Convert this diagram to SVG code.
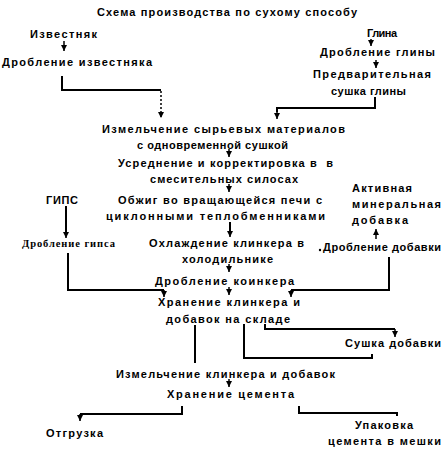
<svg xmlns="http://www.w3.org/2000/svg" width="444" height="456" viewBox="0 0 444 456">
<style>
text{font-family:"Liberation Sans",Arial,sans-serif;font-weight:bold;font-size:11px;fill:#000}
.serif{font-family:"Liberation Serif","Times New Roman",serif;font-size:10.5px}
.pre{white-space:pre}
.ln{fill:none;stroke:#000;stroke-width:2}
.ar{fill:none;stroke:#000;stroke-width:1.5}
.dot{fill:none;stroke:#000;stroke-width:1.5;stroke-dasharray:2 2}
</style>
<defs>
<marker id="ah" viewBox="0 0 6 6" refX="6" refY="3" markerWidth="6" markerHeight="6" markerUnits="userSpaceOnUse" orient="auto">
<path d="M0,0 L6,3 L0,6 z" fill="#000"/>
</marker>
</defs>
<rect width="444" height="456" fill="#fff"/>
<g id="title"><text x="97" y="16" textLength="260" lengthAdjust="spacing">Схема производства по сухому способу</text></g>
<g id="izvestnyak"><text x="30" y="38" textLength="67" lengthAdjust="spacing">Известняк</text></g>
<g id="drob-izv"><text x="2" y="66" textLength="150" lengthAdjust="spacing">Дробление известняка</text></g>
<g id="glina"><text x="367" y="37" textLength="30" lengthAdjust="spacing">Глина</text></g>
<g id="drob-gliny"><text x="320" y="56" textLength="115" lengthAdjust="spacing">Дробление глины</text></g>
<g id="sushka-gliny"><text x="313" y="78" textLength="118" lengthAdjust="spacing">Предварительная</text><text x="331" y="95" textLength="75" lengthAdjust="spacing">сушка глины</text></g>
<g id="izmelchenie-syr"><text x="102" y="133" textLength="243" lengthAdjust="spacing">Измельчение сырьевых материалов</text><text x="137" y="149" textLength="151" lengthAdjust="spacing">с одновременной сушкой</text></g>
<g id="usrednenie"><text class="pre" x="118" y="167" textLength="215" lengthAdjust="spacing">Усреднение и корректировка в  в</text><text x="150" y="183" textLength="148" lengthAdjust="spacing">смесительных силосах</text></g>
<g id="gips"><text x="46" y="204" textLength="32" lengthAdjust="spacing">ГИПС</text></g>
<g id="obzhig"><text x="118" y="204" textLength="204" lengthAdjust="spacing">Обжиг во вращающейся печи с</text><text x="106" y="220" textLength="219" lengthAdjust="spacing">циклонными теплобменниками</text></g>
<g id="aktivnaya"><text x="352" y="192" textLength="60" lengthAdjust="spacing">Активная</text><text x="352" y="208" textLength="89" lengthAdjust="spacing">минеральная</text><text x="352" y="224" textLength="56" lengthAdjust="spacing">добавка</text></g>
<g id="drob-gipsa"><text class="serif" x="22" y="247" textLength="93" lengthAdjust="spacing">Дробление гипса</text></g>
<g id="ohlazhdenie"><text x="149" y="247" textLength="155" lengthAdjust="spacing">Охлаждение клинкера в</text><text x="182" y="263" textLength="91" lengthAdjust="spacing">холодильнике</text></g>
<g id="drob-dobavki"><circle cx="320" cy="250" r="1.2" fill="#000"/><text x="323" y="251" textLength="118" lengthAdjust="spacing">Дробление добавки</text></g>
<g id="drob-klinkera"><text x="155" y="285" textLength="139" lengthAdjust="spacing">Дробление коинкера</text></g>
<g id="hranenie-kl"><text x="158" y="306" textLength="142" lengthAdjust="spacing">Хранение клинкера и</text><text x="166" y="323" textLength="124" lengthAdjust="spacing">добавок на складе</text></g>
<g id="sushka-dob"><text x="345" y="347" textLength="96" lengthAdjust="spacing">Сушка добавки</text></g>
<g id="izmelchenie-kl"><text x="116" y="378" textLength="219" lengthAdjust="spacing">Измельчение клинкера и добавок</text></g>
<g id="hranenie-cem"><text x="167" y="398" textLength="127" lengthAdjust="spacing">Хранение цемента</text></g>
<g id="otgruzka"><text x="46" y="437" textLength="57" lengthAdjust="spacing">Отгрузка</text></g>
<g id="upakovka"><text x="355" y="429" textLength="58" lengthAdjust="spacing">Упаковка</text><text x="328" y="445" textLength="113" lengthAdjust="spacing">цемента в мешки</text></g>
<g id="connectors">
<path class="ar" d="M64,41 V51" marker-end="url(#ah)"/>
<path class="ln" d="M62,76 V90 H161"/>
<path class="dot" d="M161,91 V118" marker-end="url(#ah)"/>
<path class="ar" d="M371,39 V46" marker-end="url(#ah)"/>
<path class="ar" d="M376,60 V68" marker-end="url(#ah)"/>
<path class="ln" d="M375,97 V108 H277 V112"/>
<path class="ar" d="M277,110 V119" marker-end="url(#ah)"/>
<path class="ar" d="M229,149 V157" marker-end="url(#ah)"/>
<path class="ar" d="M229,184 V192" marker-end="url(#ah)"/>
<path class="ln" d="M66,206 V232"/>
<path class="ar" d="M66,230 V238" marker-end="url(#ah)"/>
<path class="ar" d="M376,239 V229" marker-end="url(#ah)"/>
<path class="ln" d="M230,222 V232"/>
<path class="ar" d="M230,230 V237" marker-end="url(#ah)"/>
<path class="ar" d="M229,264 V272" marker-end="url(#ah)"/>
<path class="ar" d="M229,287 V295" marker-end="url(#ah)"/>
<path class="ln" d="M68,253 V290 H164"/>
<path class="ar" d="M164,290 V297" marker-end="url(#ah)"/>
<path class="ln" d="M389,257 V290 H291"/>
<path class="ar" d="M291,290 V297" marker-end="url(#ah)"/>
<path class="ln" d="M195,325 V363"/>
<path class="ln" d="M244,324 V358 H372 V354"/>
<path class="ln" d="M265,324 V329 H395"/>
<path class="ar" d="M395,329 V337" marker-end="url(#ah)"/>
<path class="ar" d="M229,379 V387" marker-end="url(#ah)"/>
<path class="ln" d="M182,406 V414 H80"/>
<path class="ar" d="M80,414 V421" marker-end="url(#ah)"/>
<path class="ln" d="M299,406 V413 H397 V416"/>
</g>
</svg>
